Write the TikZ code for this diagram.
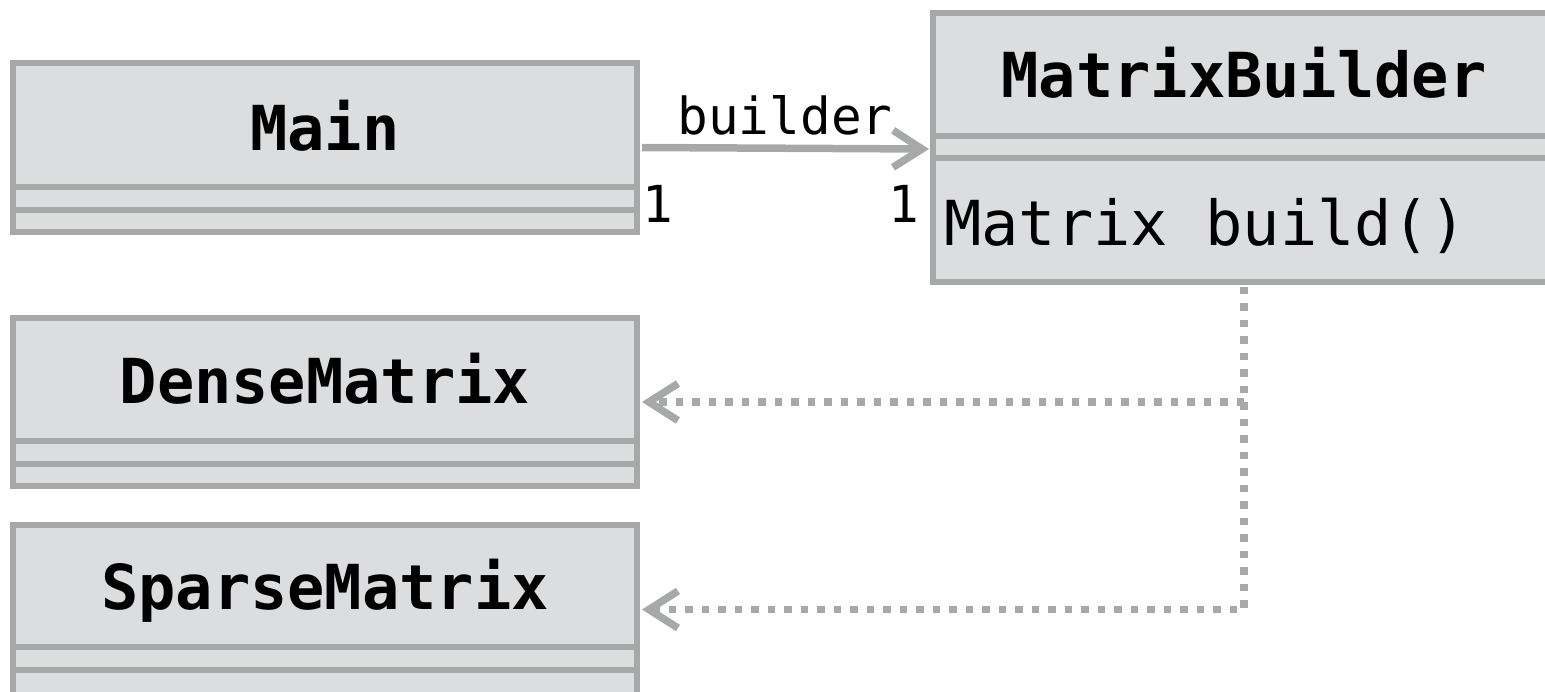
\documentclass[tikz,border=0pt]{standalone}
\usepackage{fontspec}
\setmonofont{DejaVu Sans Mono}
\usetikzlibrary{arrows.meta}
\definecolor{bordc}{RGB}{167,169,169}
\definecolor{fillc}{RGB}{220,221,223}
\tikzset{
  classbox/.style={draw=bordc, fill=fillc, line width=6pt, inner sep=0pt, outer sep=0pt, rectangle},
  sepline/.style={draw=bordc, line width=6pt},
  titletext/.style={font=\ttfamily\bfseries\fontsize{62}{62}\selectfont, text=black, anchor=base, inner sep=0pt},
  membertext/.style={font=\ttfamily\fontsize{62}{62}\selectfont, text=black, anchor=base west, inner sep=0pt},
  labeltext/.style={font=\ttfamily\fontsize{51}{51}\selectfont, text=black, anchor=base, inner sep=0pt},
  assoc/.style={draw=bordc, line width=7.5pt, -{Straight Barb[length=29pt,width=37pt]}},
  depend/.style={draw=bordc, line width=7.5pt, dash pattern=on 7.5pt off 9pt, -{Straight Barb[length=29pt,width=37pt]}}
}
\begin{document}
\begin{tikzpicture}[x=1pt,y=-1pt]
\clip (0,0) rectangle (1545,691);
\useasboundingbox (0,0) rectangle (1545,691);

% Main
\node[classbox, minimum width=624pt, minimum height=169pt] (main) at (325,147.5) {};
\draw[sepline] (13,187) -- (637,187);
\draw[sepline] (13,209.5) -- (637,209.5);
\node[titletext] (mainT) at (325,150) {Main};

% MatrixBuilder (cropped on the right)
\node[classbox, minimum width=622pt, minimum height=269pt] (mb) at (1244,147) {};
\draw[sepline] (933,135.5) -- (1555,135.5);
\draw[sepline] (933,158) -- (1555,158);
\node[titletext] (mbT) at (1244,97) {MatrixBuilder};
\node[membertext] (mbM) at (944,245) {Matrix build()};

% DenseMatrix
\node[classbox, minimum width=624pt, minimum height=168pt] (dense) at (325,402) {};
\draw[sepline] (13,441) -- (637,441);
\draw[sepline] (13,463.5) -- (637,463.5);
\node[titletext] (denseT) at (325,403) {DenseMatrix};

% SparseMatrix (cropped at the bottom)
\node[classbox, minimum width=624pt, minimum height=170pt] (sparse) at (325,609.5) {};
\draw[sepline] (13,647) -- (637,647);
\draw[sepline] (13,670) -- (637,670);
\node[titletext] (sparseT) at (325,609) {SparseMatrix};

% association
\draw[assoc] ([xshift=5pt]main.east) -- ([xshift=-4pt,yshift=-2pt]mb.west);
\node[labeltext] (lblB) at (785,134) {builder};
\node[labeltext] (m1) at (658,222) {1};
\node[labeltext] (m2) at (904,222) {1};

% dependencies
\draw[depend] ([yshift=-5pt]mb.south) |- ([xshift=5pt]dense.east);
\draw[depend] ([yshift=-5pt]mb.south) |- ([xshift=5pt]sparse.east);
\end{tikzpicture}
\end{document}
